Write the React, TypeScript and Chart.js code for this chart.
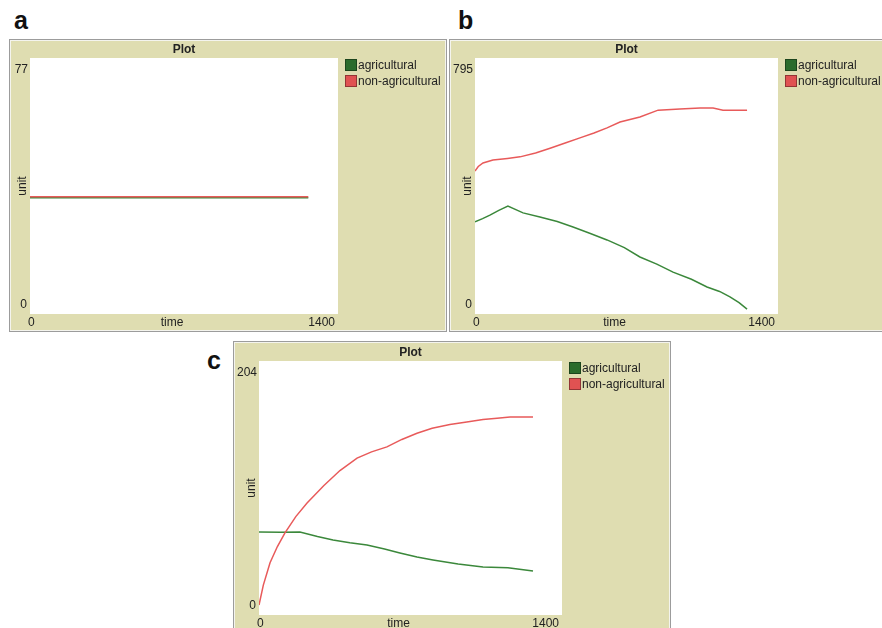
import React, { useEffect, useRef } from "react";
import { Chart, registerables } from "chart.js";
Chart.register(...registerables);

// ---------- data ----------
const SERIES_NAMES = ["agricultural", "non-agricultural"];
const X_TICKS = [0, 1400];
const TITLE = "Plot";
const X_TITLE = "time";
const Y_TITLE = "unit";

// panel a
const A_Y_TICKS = [0, 77];
const A_AGRI_TIME = [0, 1265];
const A_AGRI = [35, 35];
const A_NONAGRI_TIME = [0, 1265];
const A_NONAGRI = [35.3, 35.3];

// panel b
const B_Y_TICKS = [0, 795];
const B_AGRI_TIME = [0, 35, 69, 110, 152, 222, 300, 380, 453, 530, 610, 690, 762, 840, 915, 1000, 1072, 1130, 1178, 1220, 1257];
const B_AGRI = [286, 296, 307, 322, 335, 314, 301, 287, 270, 251, 230, 206, 177, 155, 130, 108, 84, 70, 53, 35, 15];
const B_NONAGRI_TIME = [0, 15, 37, 83, 150, 208, 280, 347, 420, 485, 550, 610, 670, 762, 846, 947, 1040, 1100, 1146, 1257];
const B_NONAGRI = [444, 458, 469, 478, 483, 488, 500, 515, 532, 547, 562, 578, 596, 612, 633, 637, 640, 640, 633, 633];

// panel c
const C_Y_TICKS = [0, 204];
const C_AGRI_TIME = [0, 100, 189, 270, 342, 420, 499, 580, 651, 730, 804, 920, 1035, 1150, 1266];
const C_AGRI = [66.7, 66.5, 66.7, 63, 60.2, 58, 56.2, 53, 49.8, 46.5, 44.2, 41, 38.6, 38, 35.3];
const C_NONAGRI_TIME = [0, 20, 51, 85, 120, 170, 222, 300, 374, 453, 520, 591, 660, 730, 800, 882, 960, 1035, 1100, 1160, 1266];
const C_NONAGRI = [8, 24, 42, 55, 66, 79, 90, 104, 116, 126, 131, 135, 141, 146, 150, 153, 155, 157, 158, 159, 159];

// ---------- styles ----------
const KHAKI = "#dfddb1";
const GREEN_LINE = "#3b883b";
const RED_LINE = "#e85a5a";
const GREEN_SWATCH = "#2b6b2b";
const RED_SWATCH = "#e05252";
const FONT = "'Liberation Sans', Arial, sans-serif";

const toPoints = (xs: number[], ys: number[]) => xs.map((x, i) => ({ x, y: ys[i] }));

const netlogoPlugin = {
  id: "netlogoFrame",
  beforeDraw(chart: any) {
    const { ctx, width, height, chartArea } = chart;
    ctx.save();
    ctx.fillStyle = KHAKI;
    ctx.fillRect(0, 0, width, height);
    ctx.strokeStyle = "#9c9c9c";
    ctx.lineWidth = 1;
    ctx.strokeRect(0.5, 0.5, width - 1, height - 1);
    ctx.strokeStyle = "#f4f4ee";
    ctx.strokeRect(1.5, 1.5, width - 3, height - 3);
    ctx.fillStyle = "#ffffff";
    ctx.fillRect(chartArea.left, chartArea.top, chartArea.right - chartArea.left, chartArea.bottom - chartArea.top);
    ctx.restore();
  },
  afterDraw(chart: any) {
    const { ctx, chartArea, scales } = chart;
    const xs = scales.x;
    const ys = scales.y;
    const yTicks: number[] = chart.options.plugins.netlogoFrame.yTicks;
    ctx.save();
    ctx.fillStyle = "#222";
    // title
    ctx.font = `bold 12px ${FONT}`;
    ctx.textAlign = "center";
    ctx.textBaseline = "alphabetic";
    ctx.fillText(TITLE, (chartArea.left + chartArea.right) / 2, chartArea.top - 5);
    ctx.font = `12px ${FONT}`;
    // y ticks
    ctx.textAlign = "right";
    ctx.textBaseline = "top";
    ctx.fillText(String(yTicks[1]), chartArea.left - 2, ys.getPixelForValue(yTicks[1]) + 6);
    ctx.textBaseline = "bottom";
    ctx.fillText(String(yTicks[0]), chartArea.left - 3, ys.getPixelForValue(yTicks[0]) - 3);
    // x ticks
    ctx.textBaseline = "top";
    ctx.textAlign = "left";
    ctx.fillText(String(X_TICKS[0]), xs.getPixelForValue(X_TICKS[0]) - 2, chartArea.bottom + 3);
    ctx.textAlign = "right";
    ctx.fillText(String(X_TICKS[1]), xs.getPixelForValue(X_TICKS[1]) - 3, chartArea.bottom + 3);
    ctx.textAlign = "center";
    ctx.fillText(X_TITLE, (chartArea.left + chartArea.right) / 2 - 12, chartArea.bottom + 3);
    // y title
    ctx.save();
    ctx.translate(chartArea.left - 7, (chartArea.top + chartArea.bottom) / 2);
    ctx.rotate(-Math.PI / 2);
    ctx.textAlign = "center";
    ctx.textBaseline = "middle";
    ctx.fillText(Y_TITLE, 0, 0);
    ctx.restore();
    // legend
    const swatches = [GREEN_SWATCH, RED_SWATCH];
    SERIES_NAMES.forEach((name, i) => {
      const sx = chartArea.right + 7;
      const sy = chartArea.top + 1 + i * 16;
      ctx.fillStyle = swatches[i];
      ctx.fillRect(sx, sy, 12, 12);
      ctx.strokeStyle = "rgba(0,0,0,0.35)";
      ctx.strokeRect(sx + 0.5, sy + 0.5, 11, 11);
      ctx.fillStyle = "#222";
      ctx.textAlign = "left";
      ctx.textBaseline = "middle";
      ctx.fillText(name, sx + 13, sy + 6.5);
    });
    ctx.restore();
  },
};

type PanelProps = {
  left: number;
  top: number;
  width: number;
  height: number;
  pad: { left: number; right: number; top: number; bottom: number };
  yTicks: number[];
  agri: { x: number; y: number }[];
  nonagri: { x: number; y: number }[];
};

function Panel(props: PanelProps) {
  const ref = useRef<HTMLCanvasElement>(null);
  useEffect(() => {
    if (!ref.current) return;
    const chart = new Chart(ref.current, {
      type: "line",
      data: {
        datasets: [
          {
            label: SERIES_NAMES[0],
            data: props.agri,
            borderColor: GREEN_LINE,
            borderWidth: 1.5,
            pointRadius: 0,
            tension: 0,
            order: 1,
          },
          {
            label: SERIES_NAMES[1],
            data: props.nonagri,
            borderColor: RED_LINE,
            borderWidth: 1.5,
            pointRadius: 0,
            tension: 0,
            order: 0,
          },
        ],
      },
      options: {
        animation: false,
        responsive: false,
        devicePixelRatio: 1,
        layout: { padding: props.pad },
        scales: {
          x: { type: "linear", min: X_TICKS[0], max: X_TICKS[1], display: false },
          y: { type: "linear", min: props.yTicks[0], max: props.yTicks[1], display: false },
        },
        plugins: {
          legend: { display: false },
          tooltip: { enabled: false },
          netlogoFrame: { yTicks: props.yTicks },
        } as any,
      },
      plugins: [netlogoPlugin as any],
    });
    return () => chart.destroy();
  }, []);
  return (
    <canvas
      ref={ref}
      width={props.width}
      height={props.height}
      style={{ position: "absolute", left: props.left, top: props.top, width: props.width, height: props.height }}
    />
  );
}

const labelStyle = (left: number, top: number): React.CSSProperties => ({
  position: "absolute",
  left,
  top,
  font: `bold 25px ${FONT}`,
  lineHeight: "25px",
  color: "#111",
});

export default function App() {
  return (
    <div style={{ position: "absolute", left: 0, top: 0, width: 882, height: 628, overflow: "hidden", background: "#fff" }}>
      <div style={labelStyle(14, 8)}>a</div>
      <div style={labelStyle(458, 8)}>b</div>
      <div style={labelStyle(207, 348)}>c</div>
      <Panel
        left={9}
        top={39}
        width={438}
        height={293}
        pad={{ left: 21, right: 109, top: 19, bottom: 18 }}
        yTicks={A_Y_TICKS}
        agri={toPoints(A_AGRI_TIME, A_AGRI)}
        nonagri={toPoints(A_NONAGRI_TIME, A_NONAGRI)}
      />
      <Panel
        left={449}
        top={39}
        width={441}
        height={293}
        pad={{ left: 26, right: 112, top: 19, bottom: 18 }}
        yTicks={B_Y_TICKS}
        agri={toPoints(B_AGRI_TIME, B_AGRI)}
        nonagri={toPoints(B_NONAGRI_TIME, B_NONAGRI)}
      />
      <Panel
        left={233}
        top={341}
        width={438}
        height={292}
        pad={{ left: 26, right: 109, top: 20, bottom: 18 }}
        yTicks={C_Y_TICKS}
        agri={toPoints(C_AGRI_TIME, C_AGRI)}
        nonagri={toPoints(C_NONAGRI_TIME, C_NONAGRI)}
      />
    </div>
  );
}
